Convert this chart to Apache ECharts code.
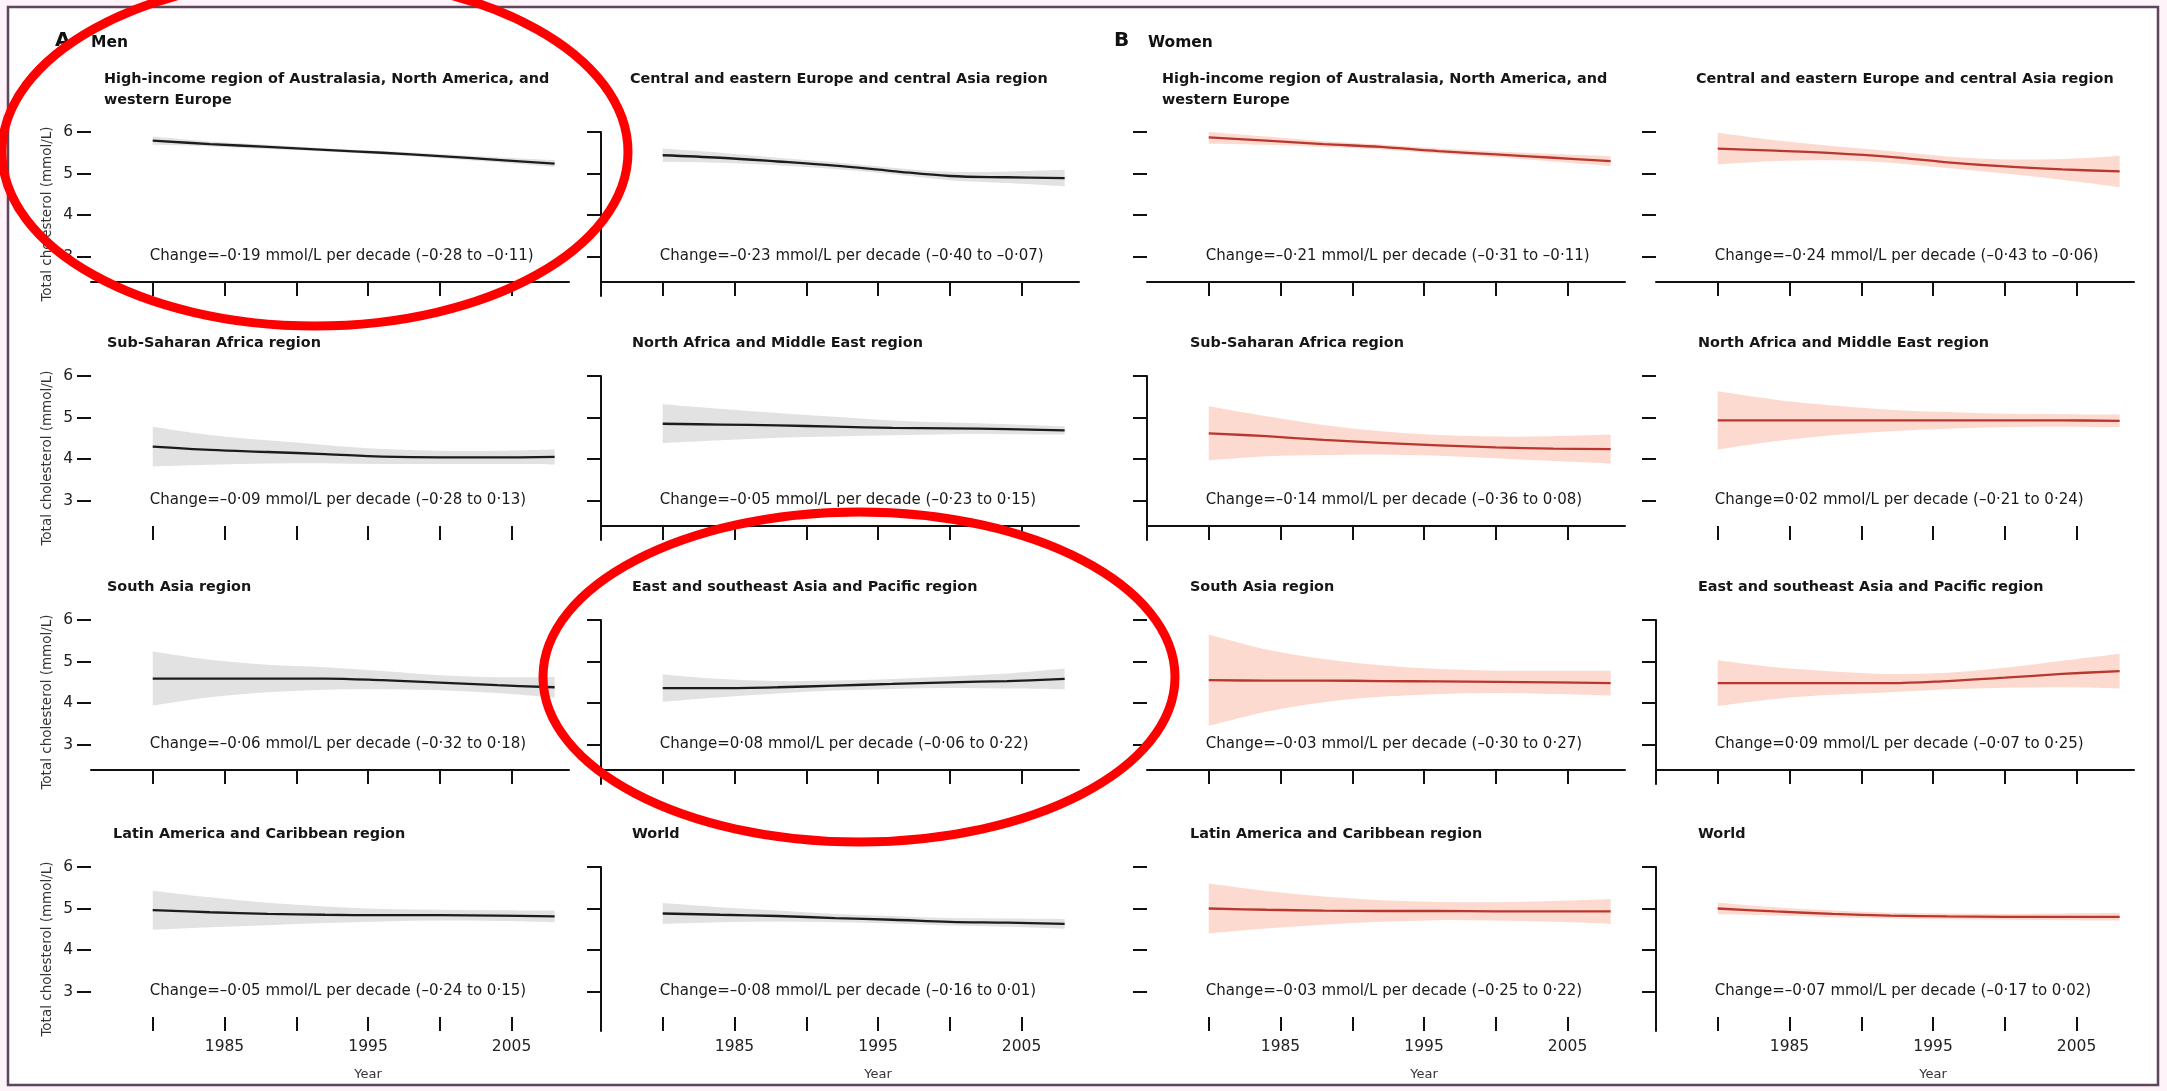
<!DOCTYPE html>
<html>
<head>
<meta charset="utf-8">
<title>Total cholesterol trends by region, 1980–2008</title>
<script src="https://cdn.jsdelivr.net/npm/echarts@6/dist/echarts.min.js"></script>
<style>
  html, body { margin: 0; padding: 0; background: #fdf3f8; }
  #chart { width: 2167px; height: 1091px; }
</style>
</head>
<body>
<div id="chart"></div>
<script>
// ---- data ---------------------------------------------------------------
const years = [1980, 1984, 1988, 1992, 1996, 2000, 2004, 2008];
const xTicks = [1980, 1985, 1990, 1995, 2000, 2005];
const xTickLabels = [1985, 1995, 2005];
const yTicks = [3, 4, 5, 6];

const regionTitles = [
  ['High-income region of Australasia, North America, and', 'western Europe'],
  ['Central and eastern Europe and central Asia region'],
  ['Sub-Saharan Africa region'],
  ['North Africa and Middle East region'],
  ['South Asia region'],
  ['East and southeast Asia and Pacific region'],
  ['Latin America and Caribbean region'],
  ['World']
];

// Men: posterior mean and 95% uncertainty interval (mmol/L)
const menMean = [
  [5.79, 5.71, 5.64, 5.57, 5.50, 5.42, 5.33, 5.24],
  [5.44, 5.38, 5.29, 5.19, 5.06, 4.94, 4.91, 4.89],
  [4.30, 4.22, 4.17, 4.12, 4.06, 4.04, 4.04, 4.05],
  [4.85, 4.83, 4.81, 4.78, 4.75, 4.74, 4.72, 4.69],
  [4.59, 4.59, 4.59, 4.59, 4.55, 4.49, 4.43, 4.38],
  [4.36, 4.36, 4.38, 4.42, 4.46, 4.50, 4.53, 4.58],
  [4.96, 4.91, 4.87, 4.85, 4.84, 4.84, 4.83, 4.81],
  [4.88, 4.85, 4.82, 4.77, 4.73, 4.68, 4.66, 4.63]
];
const menLower = [
  [5.69, 5.65, 5.59, 5.53, 5.46, 5.37, 5.27, 5.16],
  [5.28, 5.26, 5.20, 5.11, 4.98, 4.84, 4.77, 4.69],
  [3.82, 3.86, 3.89, 3.90, 3.88, 3.88, 3.88, 3.87],
  [4.38, 4.45, 4.51, 4.54, 4.57, 4.60, 4.60, 4.59],
  [3.94, 4.14, 4.26, 4.32, 4.33, 4.31, 4.24, 4.13],
  [4.03, 4.14, 4.23, 4.30, 4.34, 4.36, 4.35, 4.33],
  [4.49, 4.55, 4.60, 4.65, 4.69, 4.71, 4.70, 4.67],
  [4.63, 4.67, 4.69, 4.67, 4.64, 4.59, 4.56, 4.51]
];
const menUpper = [
  [5.89, 5.77, 5.69, 5.61, 5.54, 5.47, 5.39, 5.32],
  [5.60, 5.50, 5.38, 5.27, 5.14, 5.04, 5.05, 5.09],
  [4.78, 4.58, 4.45, 4.34, 4.24, 4.20, 4.20, 4.23],
  [5.32, 5.21, 5.11, 5.02, 4.93, 4.88, 4.84, 4.79],
  [5.24, 5.04, 4.92, 4.86, 4.77, 4.67, 4.62, 4.63],
  [4.69, 4.58, 4.53, 4.54, 4.58, 4.64, 4.71, 4.83],
  [5.43, 5.27, 5.14, 5.05, 4.99, 4.97, 4.96, 4.95],
  [5.13, 5.03, 4.95, 4.87, 4.82, 4.77, 4.76, 4.75]
];
const menChange = [
  'Change=–0·19 mmol/L per decade (–0·28 to –0·11)',
  'Change=–0·23 mmol/L per decade (–0·40 to –0·07)',
  'Change=–0·09 mmol/L per decade (–0·28 to 0·13)',
  'Change=–0·05 mmol/L per decade (–0·23 to 0·15)',
  'Change=–0·06 mmol/L per decade (–0·32 to 0·18)',
  'Change=0·08 mmol/L per decade (–0·06 to 0·22)',
  'Change=–0·05 mmol/L per decade (–0·24 to 0·15)',
  'Change=–0·08 mmol/L per decade (–0·16 to 0·01)'
];

// Women: posterior mean and 95% uncertainty interval (mmol/L)
const womenMean = [
  [5.87, 5.79, 5.71, 5.64, 5.54, 5.46, 5.38, 5.30],
  [5.60, 5.55, 5.49, 5.40, 5.27, 5.17, 5.10, 5.05],
  [4.62, 4.55, 4.46, 4.39, 4.33, 4.28, 4.25, 4.24],
  [4.93, 4.93, 4.93, 4.93, 4.93, 4.93, 4.93, 4.92],
  [4.55, 4.54, 4.54, 4.53, 4.52, 4.51, 4.50, 4.48],
  [4.48, 4.48, 4.48, 4.48, 4.53, 4.61, 4.70, 4.77],
  [5.00, 4.97, 4.95, 4.94, 4.94, 4.93, 4.93, 4.93],
  [5.00, 4.93, 4.87, 4.83, 4.81, 4.80, 4.80, 4.80]
];
const womenLower = [
  [5.72, 5.69, 5.64, 5.58, 5.48, 5.39, 5.29, 5.18],
  [5.22, 5.30, 5.32, 5.26, 5.13, 5.00, 4.85, 4.67],
  [3.97, 4.07, 4.10, 4.11, 4.08, 4.02, 3.95, 3.89],
  [4.23, 4.43, 4.57, 4.67, 4.73, 4.77, 4.78, 4.77],
  [3.45, 3.79, 4.02, 4.15, 4.22, 4.24, 4.22, 4.18],
  [3.93, 4.10, 4.20, 4.26, 4.33, 4.37, 4.38, 4.35],
  [4.40, 4.52, 4.61, 4.68, 4.72, 4.71, 4.68, 4.63],
  [4.86, 4.83, 4.79, 4.76, 4.74, 4.73, 4.72, 4.71]
];
const womenUpper = [
  [6.00, 5.89, 5.78, 5.70, 5.60, 5.53, 5.47, 5.42],
  [5.98, 5.80, 5.66, 5.54, 5.41, 5.34, 5.35, 5.43],
  [5.27, 5.03, 4.82, 4.67, 4.58, 4.54, 4.55, 4.59],
  [5.63, 5.43, 5.29, 5.19, 5.13, 5.09, 5.08, 5.07],
  [5.65, 5.29, 5.06, 4.91, 4.82, 4.78, 4.78, 4.78],
  [5.03, 4.86, 4.76, 4.70, 4.73, 4.85, 5.02, 5.19],
  [5.60, 5.42, 5.29, 5.20, 5.16, 5.15, 5.18, 5.23],
  [5.14, 5.03, 4.95, 4.90, 4.88, 4.87, 4.88, 4.89]
];
const womenChange = [
  'Change=–0·21 mmol/L per decade (–0·31 to –0·11)',
  'Change=–0·24 mmol/L per decade (–0·43 to –0·06)',
  'Change=–0·14 mmol/L per decade (–0·36 to 0·08)',
  'Change=0·02 mmol/L per decade (–0·21 to 0·24)',
  'Change=–0·03 mmol/L per decade (–0·30 to 0·27)',
  'Change=0·09 mmol/L per decade (–0·07 to 0·25)',
  'Change=–0·03 mmol/L per decade (–0·25 to 0·22)',
  'Change=–0·07 mmol/L per decade (–0·17 to 0·02)'
];

// ---- layout & style -----------------------------------------------------
const FONT = '"DejaVu Sans", sans-serif';
const INK = '#111111';
const colLeft = [91, 601, 1147, 1656];
const rowTop = [132, 376, 620, 867];
const GW = 478, GH = 164;
const X_MIN = 1975.7, X_MAX = 2009.0, Y_MIN = 2.05, Y_MAX = 6;
const TICK = 14;
// which panels draw their axis lines  [row][col]
const yLineOn = [[0, 1, 0, 0], [0, 1, 1, 0], [0, 1, 0, 1], [0, 1, 0, 1]];
const xLineOn = [[1, 1, 1, 1], [0, 1, 1, 0], [1, 1, 1, 1], [0, 0, 0, 0]];
// horizontal indent of each panel title from its y axis  [row][col]
const titleDx = [[13, 29, 15, 40], [16, 31, 43, 42], [16, 31, 43, 42], [22, 31, 43, 42]];

const sexes = [
  { mean: menMean, lower: menLower, upper: menUpper, change: menChange,
    line: '#1c1c1c', band: '#e2e2e2' },
  { mean: womenMean, lower: womenLower, upper: womenUpper, change: womenChange,
    line: '#b9372e', band: '#fcdad0' }
];

const panels = [];
for (let s = 0; s < 2; s++) {
  for (let r = 0; r < 8; r++) {
    panels.push({ s, r, row: Math.floor(r / 2), col: s * 2 + (r % 2) });
  }
}

// Catmull-Rom curve through pixel points, written as SVG cubic segments
function splineSegments(pts) {
  let d = '';
  for (let k = 0; k < pts.length - 1; k++) {
    const p0 = pts[Math.max(k - 1, 0)], p1 = pts[k], p2 = pts[k + 1];
    const p3 = pts[Math.min(k + 2, pts.length - 1)];
    const c1 = [p1[0] + (p2[0] - p0[0]) / 6, p1[1] + (p2[1] - p0[1]) / 6];
    const c2 = [p2[0] - (p3[0] - p1[0]) / 6, p2[1] - (p3[1] - p1[1]) / 6];
    d += ` C ${c1[0]} ${c1[1]} ${c2[0]} ${c2[1]} ${p2[0]} ${p2[1]}`;
  }
  return d;
}

// uncertainty band: upper edge left-to-right, lower edge right-to-left
function bandRenderer(lo, hi, fill) {
  return function (params, api) {
    if (params.dataIndex !== 0) return null;
    const up = years.map((y, k) => api.coord([y, hi[k]]));
    const dn = years.map((y, k) => api.coord([y, lo[k]])).reverse();
    const d = `M ${up[0][0]} ${up[0][1]}` + splineSegments(up) +
      ` L ${dn[0][0]} ${dn[0][1]}` + splineSegments(dn) + ' Z';
    return { type: 'path', shape: { pathData: d }, style: { fill: fill } };
  };
}

const option = {
  backgroundColor: '#fdf3f8',
  animation: false,
  grid: [], xAxis: [], yAxis: [], series: []
};

panels.forEach((pn, i) => {
  const S = sexes[pn.s];
  option.grid.push({ left: colLeft[pn.col], top: rowTop[pn.row], width: GW, height: GH });
  option.xAxis.push({
    type: 'value', gridIndex: i, min: X_MIN, max: X_MAX, offset: -TICK,
    axisLine: { show: !!xLineOn[pn.row][pn.col], lineStyle: { color: INK, width: 2 } },
    axisTick: { show: true, customValues: xTicks, length: TICK, lineStyle: { color: INK, width: 2 } },
    axisLabel: {
      show: pn.row === 3, customValues: xTickLabels, margin: 22,
      fontFamily: FONT, fontSize: 15.5, color: '#222', formatter: v => String(v)
    },
    splitLine: { show: false }
  });
  option.yAxis.push({
    type: 'value', gridIndex: i, min: Y_MIN, max: Y_MAX,
    axisLine: { show: !!yLineOn[pn.row][pn.col], lineStyle: { color: INK, width: 2 } },
    axisTick: { show: true, customValues: yTicks, length: TICK, lineStyle: { color: INK, width: 2 } },
    axisLabel: {
      show: pn.col === 0, customValues: yTicks, margin: 18,
      fontFamily: FONT, fontSize: 15.5, color: '#222', formatter: v => String(v)
    },
    splitLine: { show: false },
    name: pn.col === 0 ? 'Total cholesterol (mmol/L)' : '',
    nameLocation: 'middle', nameGap: 37, nameRotate: 90,
    nameTextStyle: { fontFamily: FONT, fontSize: 13.5, color: '#333' }
  });

  const lo = S.lower[pn.r], hi = S.upper[pn.r], mu = S.mean[pn.r];
  option.series.push({
    type: 'custom', xAxisIndex: i, yAxisIndex: i, silent: true, z: 2, clip: true,
    data: years.map((y, k) => [y, lo[k], hi[k]]),
    encode: { x: 0, y: [1, 2] },
    renderItem: bandRenderer(lo, hi, S.band)
  });
  option.series.push({
    type: 'line', xAxisIndex: i, yAxisIndex: i, silent: true,
    symbol: 'none', smooth: 0.35, z: 3,
    lineStyle: { color: S.line, width: 2.3 },
    data: years.map((y, k) => [y, mu[k]])
  });
});

const chart = echarts.init(document.getElementById('chart'));
chart.setOption(option);

// ---- annotations --------------------------------------------------------
const txt = (x, y, text, o = {}) => ({
  type: 'text', x, y, silent: true, z: 50,
  style: Object.assign({
    text, fill: INK, fontFamily: FONT, fontSize: 15.5,
    align: 'left', verticalAlign: 'middle'
  }, o)
});

const g = [];
// figure frame
g.push({
  type: 'rect', silent: true, z: -100,
  shape: { x: 8, y: 7, width: 2150, height: 1078 },
  style: { fill: '#ffffff', stroke: '#5b465b', lineWidth: 2.5 }
});
// section headers
g.push(txt(55, 41, 'A', { fontSize: 20, fontWeight: 'bold' }));
g.push(txt(91, 43, 'Men', { fontSize: 15.5, fontWeight: 'bold' }));
g.push(txt(1114, 41, 'B', { fontSize: 20, fontWeight: 'bold' }));
g.push(txt(1148, 43, 'Women', { fontSize: 15.5, fontWeight: 'bold' }));

panels.forEach((pn, i) => {
  const S = sexes[pn.s];
  // panel title
  const lines = regionTitles[pn.r];
  const tx = colLeft[pn.col] + titleDx[pn.row][pn.col];
  const ty = pn.row === 0 ? 79 : rowTop[pn.row] - 33;
  g.push(txt(tx, ty - 10.5, lines.join('\n'), {
    verticalAlign: 'top', lineHeight: 21, fontSize: 14.4, fontWeight: 'bold', fill: '#161616'
  }));
  // change per decade, anchored at the 1980 / 3 mmol/L position of the panel
  const a = chart.convertToPixel({ gridIndex: i }, [1980, 3]);
  g.push(txt(a[0] - 3, a[1], S.change[pn.r], { fontSize: 15, fill: '#1a1a1a' }));
  // x-axis title on the bottom row
  if (pn.row === 3) {
    const b = chart.convertToPixel({ gridIndex: i }, [1995, Y_MIN]);
    g.push(txt(b[0], 1075, 'Year', { fontSize: 13, align: 'center', fill: '#333' }));
  }
});

// red highlight rings
g.push({
  type: 'ellipse', silent: true, z: 100,
  shape: { cx: 315, cy: 152, rx: 313, ry: 174 },
  style: { fill: 'none', stroke: '#ff0000', lineWidth: 9 }
});
g.push({
  type: 'ellipse', silent: true, z: 100,
  shape: { cx: 859, cy: 677, rx: 316, ry: 165 },
  style: { fill: 'none', stroke: '#ff0000', lineWidth: 9 }
});

chart.setOption({ graphic: { elements: g } });
</script>
</body>
</html>
